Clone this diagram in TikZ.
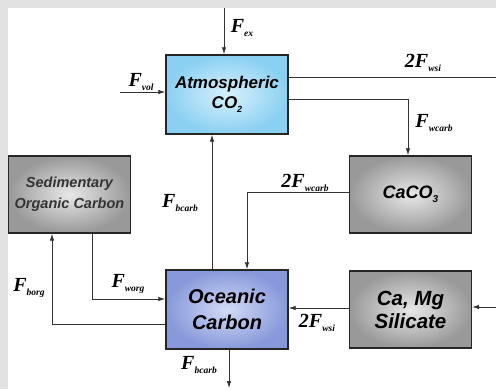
\documentclass[tikz,border=0pt]{standalone}
\usepackage{fontspec}
\setmainfont{Liberation Serif}
\newfontfamily\boxfont{Liberation Sans}
\usetikzlibrary{arrows.meta}

\definecolor{frame}{HTML}{E2E2E2}
\definecolor{atmedge}{HTML}{8AD0F2}
\definecolor{atmmid}{HTML}{D8F1FC}
\definecolor{ocnedge}{HTML}{8799DA}
\definecolor{ocnmid}{HTML}{D2DBF6}
\definecolor{rockedge}{HTML}{999999}
\definecolor{rockmid}{HTML}{E8E8E8}
\definecolor{linecol}{HTML}{333333}

\newcommand{\flux}[1]{{\fontsize{20}{20}\selectfont\bfseries\itshape F\raisebox{-0.2em}{\fontsize{9.5}{10}\selectfont #1}}}
\newcommand{\two}{{\fontsize{20}{20}\selectfont\bfseries\itshape 2}}

\begin{document}
\begin{tikzpicture}[x=1pt, y=-1pt,
  reservoir/.style={draw=black!85, line width=1.4pt, minimum width=122pt, minimum height=77pt,
    inner sep=2pt, align=center},
  atmbox/.style={reservoir, inner color=atmmid, outer color=atmedge},
  ocnbox/.style={reservoir, inner color=ocnmid, outer color=ocnedge},
  rockbox/.style={reservoir, inner color=rockmid, outer color=rockedge},
  flow/.style={draw=linecol, line width=0.8pt, -{Latex[length=7pt, width=4.5pt]}},
  plainflow/.style={draw=linecol, line width=0.8pt},
  lbl/.style={inner sep=0pt, text=black}]

% frame
\fill[frame] (0,0) rectangle (496,389);
\fill[white] (8,8) rectangle (496,389);
\useasboundingbox (0,0) rectangle (496,389);

% reservoirs
\node[atmbox, minimum height=79pt, font=\boxfont\bfseries\itshape\fontsize{17}{20}\selectfont] at (227,94.5) (atm)
  {Atmospheric\\CO\raisebox{-0.2em}{\fontsize{9}{9}\selectfont 2}};
\node[ocnbox, minimum height=79pt, font=\boxfont\bfseries\itshape\fontsize{20}{26}\selectfont] at (227,309.5) (ocean)
  {Oceanic\\Carbon};
\node[rockbox, text=black!80, font=\boxfont\bfseries\itshape\fontsize{14.5}{21}\selectfont] at (69.5,194.5) (sed)
  {Sedimentary\\Organic Carbon};
\node[rockbox, font=\boxfont\bfseries\itshape\fontsize{18}{20}\selectfont] at (410.5,194.5) (caco)
  {CaCO\raisebox{-0.25em}{\fontsize{10}{10}\selectfont 3}};
\node[rockbox, font=\boxfont\bfseries\itshape\fontsize{20.5}{23}\selectfont] at (410.5,309.5) (sil)
  {Ca, Mg\\Silicate};

% bends and free ends
\coordinate (exin) at (224,8);
\coordinate (volin) at (120,92);
\coordinate (wsiout) at (496,77);
\coordinate (wcbend) at (408,99);
\coordinate (bcup) at (212,200);
\coordinate (wc2bend) at (247,192);
\coordinate (borgbend) at (52,324);
\coordinate (worgbend) at (92,299);
\coordinate (wsiline) at (330,308);
\coordinate (wsiin) at (496,307);
\coordinate (bcout) at (229,388);

% fluxes
\draw[flow] (exin) -- (exin |- atm.north);
\draw[flow] (volin) -- (volin -| atm.west);
\draw[plainflow] (wsiout -| atm.east) -- (wsiout);
\draw[flow] (wcbend -| atm.east) -- (wcbend) -- (wcbend |- caco.north);
\draw[flow] (bcup |- ocean.north) -- (bcup |- atm.south);
\draw[flow] (wc2bend -| caco.west) -- (wc2bend) -- (wc2bend |- ocean.north);
\draw[flow] (borgbend -| ocean.west) -- (borgbend) -- (borgbend |- sed.south);
\draw[flow] (worgbend |- sed.south) -- (worgbend) -- (worgbend -| ocean.west);
\draw[flow] (wsiline -| sil.west) -- (wsiline -| ocean.east);
\draw[flow] (wsiin) -- (wsiin -| sil.east);
\draw[flow] (bcout |- ocean.south) -- (bcout);

% labels
\node[lbl] at (242,28) (lex) {\flux{ex}};
\node[lbl] at (141,82) (lvol) {\flux{vol}};
\node[lbl] at (423,63) (lwsi) {\two\flux{wsi}};
\node[lbl] at (434,123) (lwcarb) {\flux{wcarb}};
\node[lbl] at (180,203) (lbcarb) {\flux{bcarb}};
\node[lbl] at (305,183) (lwcarbb) {\two\flux{wcarb}};
\node[lbl] at (29,288) (lborg) {\flux{borg}};
\node[lbl] at (128,284) (lworg) {\flux{worg}};
\node[lbl] at (317,323) (lwsib) {\two\flux{wsi}};
\node[lbl] at (199,365) (lbcarbb) {\flux{bcarb}};
\end{tikzpicture}
\end{document}
